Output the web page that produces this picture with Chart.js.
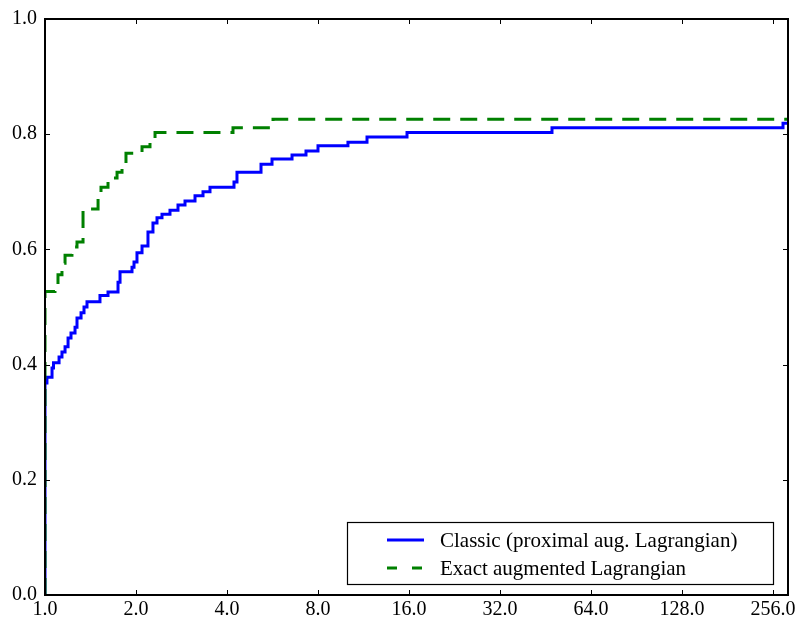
<!DOCTYPE html>
<html>
<head>
<meta charset="utf-8">
<script src="https://cdn.jsdelivr.net/npm/chart.js@4/dist/chart.umd.min.js"></script>
<style>
  html, body { margin: 0; padding: 0; background: #ffffff; }
  #wrap { width: 795px; height: 618px; }
</style>
</head>
<body>
<div id="wrap"><canvas id="c" width="795" height="618"></canvas></div>
<script>
// Performance profiles: fraction of problems solved within a factor tau of the best solver.
const classicTau = [1, 1, 1.015, 1.055, 1.067, 1.113, 1.138, 1.165, 1.192, 1.219, 1.257, 1.276, 1.316, 1.346, 1.377,
  1.520, 1.616, 1.744, 1.771, 1.940, 1.970, 2.015, 2.094, 2.191, 2.276, 2.347, 2.438, 2.591, 2.754, 2.905,
  3.135, 3.332, 3.514, 4.219, 4.316, 5.183, 5.636, 6.564, 7.301, 8.0, 10.05, 11.62, 15.76, 47.55, 276.3, 287];
const classicRho = [0, 0.368, 0.378, 0.394, 0.403, 0.413, 0.422, 0.431, 0.446, 0.455, 0.465, 0.481, 0.490, 0.500, 0.509,
  0.520, 0.526, 0.543, 0.561, 0.569, 0.578, 0.594, 0.606, 0.630, 0.646, 0.655, 0.661, 0.668, 0.677, 0.684,
  0.693, 0.700, 0.708, 0.717, 0.734, 0.748, 0.757, 0.764, 0.771, 0.780, 0.786, 0.795, 0.803, 0.811, 0.819, 0.819];

const exactTau = [1, 1, 1.079, 1.104, 1.138, 1.165, 1.228, 1.276, 1.336, 1.498, 1.532, 1.616, 1.731, 1.798, 1.853,
  2.015, 2.094, 2.225, 2.312, 4.187, 5.679, 287];
const exactRho = [0, 0.527, 0.538, 0.556, 0.576, 0.590, 0.604, 0.613, 0.670, 0.698, 0.708, 0.724, 0.734, 0.750, 0.767,
  0.769, 0.778, 0.790, 0.803, 0.811, 0.826, 0.826];

const seriesLabels = ['Classic (proximal aug. Lagrangian)', 'Exact augmented Lagrangian'];
const xTicks = [1, 2, 4, 8, 16, 32, 64, 128, 256];
const yTicks = [0, 0.2, 0.4, 0.6, 0.8, 1.0];
const xMax = 287;

const toPoints = (xs, ys) => xs.map((x, i) => ({ x: x, y: ys[i] }));

const FONT = '"Liberation Serif", "DejaVu Serif", serif';

// Axes frame with inward ticks on all four sides
const framePlugin = {
  id: 'frame',
  afterDatasetsDraw(chart) {
    const { ctx, chartArea: a, scales } = chart;
    ctx.save();
    ctx.strokeStyle = '#000';
    ctx.lineWidth = 1;
    const tl = 5;
    ctx.beginPath();
    xTicks.forEach(v => {
      const px = Math.round(scales.x.getPixelForValue(v)) + 0.5;
      ctx.moveTo(px, a.bottom); ctx.lineTo(px, a.bottom - tl);
      ctx.moveTo(px, a.top); ctx.lineTo(px, a.top + tl);
    });
    yTicks.forEach(v => {
      const py = Math.round(scales.y.getPixelForValue(v)) + 0.5;
      ctx.moveTo(a.left, py); ctx.lineTo(a.left + tl, py);
      ctx.moveTo(a.right, py); ctx.lineTo(a.right - tl, py);
    });
    ctx.stroke();
    ctx.lineWidth = 2;
    ctx.strokeRect(a.left, a.top, a.right - a.left, a.bottom - a.top);
    ctx.restore();
  }
};

// Legend box in the lower-right corner of the axes
const legendPlugin = {
  id: 'boxLegend',
  afterDraw(chart) {
    const { ctx, chartArea: a } = chart;
    const bx = a.left + 302, by = a.bottom - 73, bw = 426, bh = 62;
    ctx.save();
    ctx.fillStyle = '#fff';
    ctx.fillRect(bx, by, bw, bh);
    ctx.strokeStyle = '#000';
    ctx.lineWidth = 1.2;
    ctx.strokeRect(bx + 0.5, by + 0.5, bw, bh);
    chart.data.datasets.forEach((ds, i) => {
      const y = by + 18 + i * 28;
      ctx.beginPath();
      ctx.strokeStyle = ds.borderColor;
      ctx.lineWidth = 3;
      ctx.setLineDash(ds.borderDash && ds.borderDash.length ? [10, 15] : []);
      ctx.moveTo(bx + 40, y);
      ctx.lineTo(bx + 77, y);
      ctx.stroke();
      ctx.setLineDash([]);
      ctx.fillStyle = '#000';
      ctx.font = '21px ' + FONT;
      ctx.textBaseline = 'middle';
      ctx.fillText(ds.label, bx + 93, y + 1);
    });
    ctx.restore();
  }
};

new Chart(document.getElementById('c'), {
  type: 'line',
  data: {
    datasets: [
      {
        label: seriesLabels[0],
        data: toPoints(classicTau, classicRho),
        borderColor: '#0000ff',
        borderWidth: 3,
        stepped: true,
        pointRadius: 0,
        fill: false,
        order: 1
      },
      {
        label: seriesLabels[1],
        data: toPoints(exactTau, exactRho),
        borderColor: '#008000',
        borderWidth: 3,
        borderDash: [17, 10],
        borderCapStyle: 'butt',
        stepped: true,
        pointRadius: 0,
        fill: false,
        order: 0
      }
    ]
  },
  options: {
    responsive: false,
    animation: false,
    devicePixelRatio: 1,
    layout: { padding: { top: 19, right: 7, left: 0, bottom: 0 } },
    plugins: { legend: { display: false }, tooltip: { enabled: false } },
    scales: {
      x: {
        type: 'logarithmic',
        min: 1,
        max: xMax,
        grid: { display: false, drawTicks: false },
        border: { display: false },
        afterBuildTicks(axis) { axis.ticks = xTicks.map(v => ({ value: v })); },
        afterFit(axis) { axis.height = 23; axis.paddingLeft = 0; axis.paddingRight = 0; },
        ticks: {
          autoSkip: false,
          maxRotation: 0,
          padding: 3,
          color: '#000',
          font: { family: FONT, size: 20 },
          callback: v => Number(v).toFixed(1)
        }
      },
      y: {
        min: 0,
        max: 1,
        grid: { display: false, drawTicks: false },
        border: { display: false },
        afterBuildTicks(axis) { axis.ticks = yTicks.map(v => ({ value: v })); },
        afterFit(axis) { axis.width = 45; axis.paddingTop = 0; axis.paddingBottom = 0; },
        ticks: {
          padding: 8,
          color: '#000',
          font: { family: FONT, size: 20 },
          callback: v => Number(v).toFixed(1)
        }
      }
    }
  },
  plugins: [framePlugin, legendPlugin]
});
</script>
</body>
</html>
